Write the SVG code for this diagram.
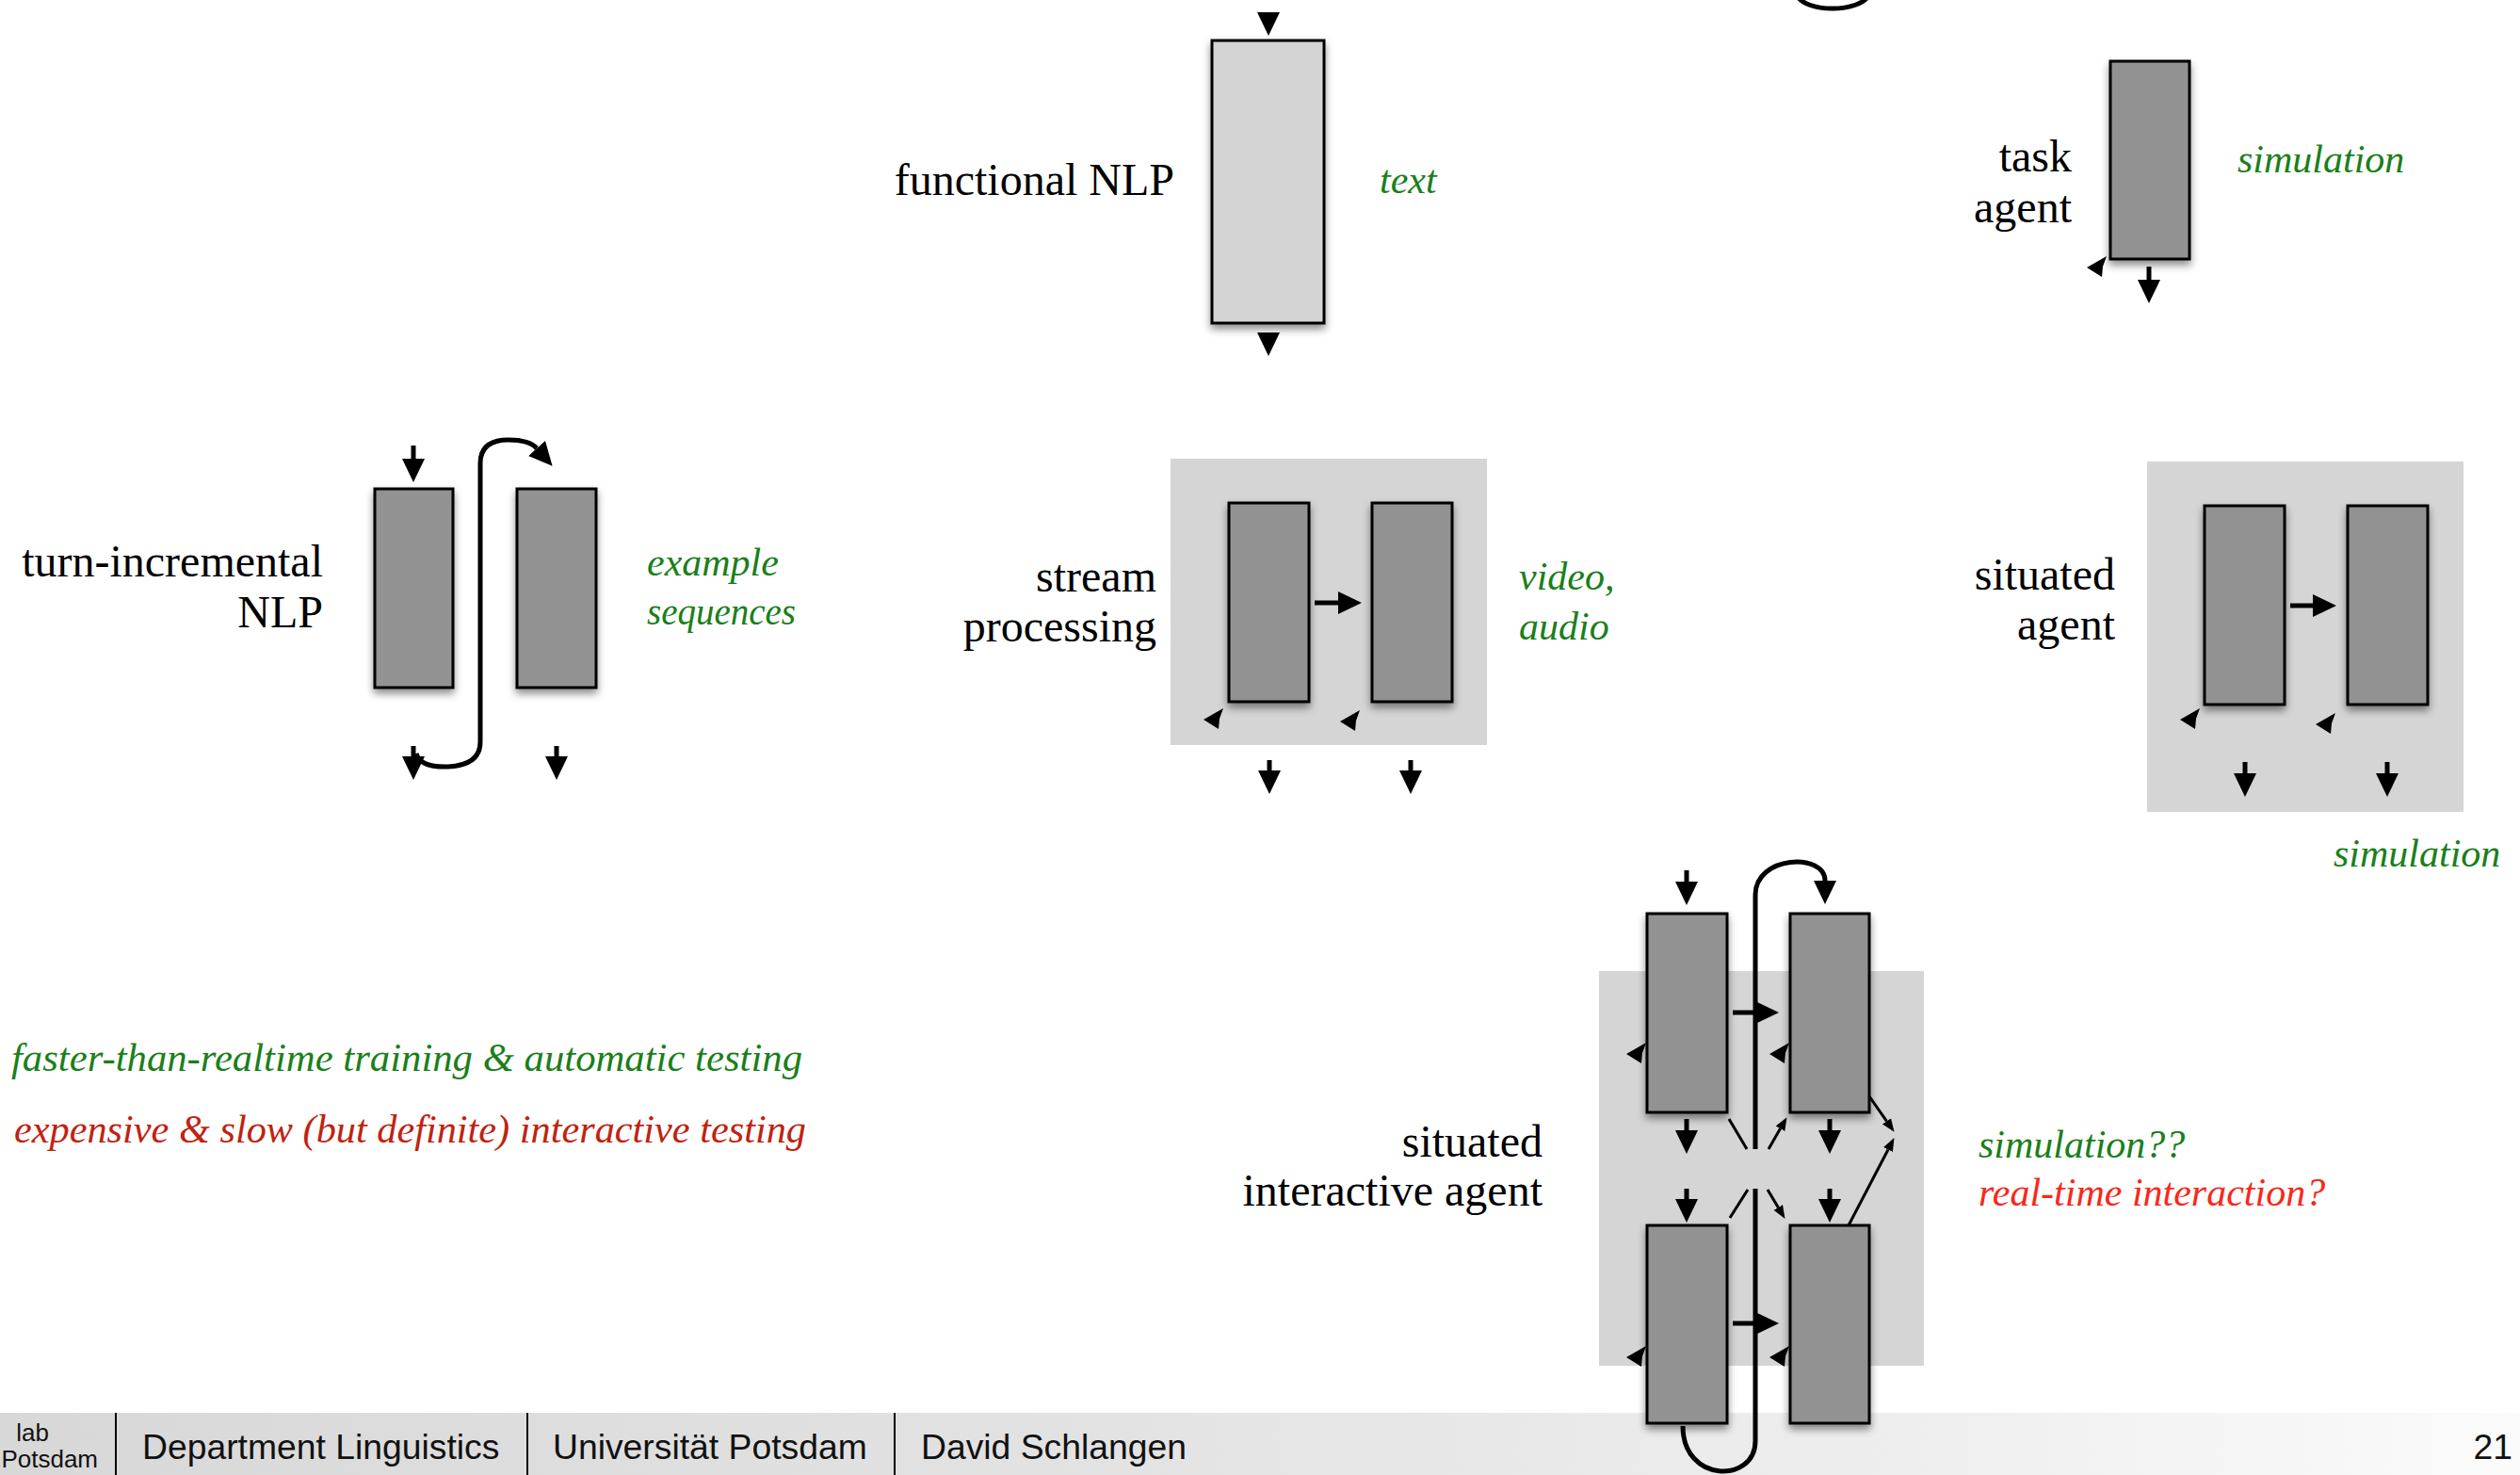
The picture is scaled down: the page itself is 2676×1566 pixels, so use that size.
<svg xmlns="http://www.w3.org/2000/svg" width="2676" height="1566" viewBox="0 0 2676 1566">
  <style>
    .box { fill: #929292; stroke: #000; stroke-width: 3; filter: url(#sh); }
    .lbox { fill: #d4d4d4; stroke: #000; stroke-width: 3; filter: url(#sh); }
    .panel { fill: #d5d5d5; }
    .ln { fill: none; stroke: #000; stroke-width: 5; marker-end: url(#ah); }
    .loop { fill: none; stroke: #000; stroke-width: 5; }
    .thin { fill: none; stroke: #000; stroke-width: 3; }
    .thinA { fill: none; stroke: #000; stroke-width: 3; marker-end: url(#sm); }
    .lbl { font-family: "Liberation Serif", "Times New Roman", serif; font-size: 48px; fill: #000; }
    .it { font-family: "Liberation Serif", "Times New Roman", serif; font-style: italic; font-size: 42px; fill: #1a7f1a; }
    .red { fill: #c0220f; }
    .bright { fill: #f8281a; }
    .foot { font-family: "Liberation Sans", Arial, sans-serif; font-size: 37.3px; fill: #111; }
    .foots { font-family: "Liberation Sans", Arial, sans-serif; font-size: 26px; fill: #111; }
  </style>
  <defs>
    <filter id="sh" x="-30%" y="-10%" width="160%" height="130%">
      <feDropShadow dx="0" dy="5" stdDeviation="4" flood-color="#000" flood-opacity="0.45"/>
    </filter>
    <marker id="ah" markerUnits="userSpaceOnUse" viewBox="0 -12 25 24" markerWidth="25" markerHeight="24" refX="0" refY="0" orient="auto">
      <path d="M0,-12 L25,0 L0,12 z" fill="#000"/>
    </marker>
    <marker id="sm" markerUnits="userSpaceOnUse" viewBox="0 -6 14 12" markerWidth="14" markerHeight="12" refX="0" refY="0" orient="auto">
      <path d="M0,-5.5 L14,0 L0,5.5 z" fill="#000"/>
    </marker>
    <polygon id="tick" points="0,0 21,-12 17,-1 16,10" fill="#000"/>
    <linearGradient id="footbg" x1="0" y1="0" x2="1" y2="0">
      <stop offset="0" stop-color="#d8d8d8"/>
      <stop offset="0.45" stop-color="#e3e3e3"/>
      <stop offset="0.75" stop-color="#eeeeee"/>
      <stop offset="1" stop-color="#fbfbfb"/>
    </linearGradient>
  </defs>

  <rect width="2676" height="1566" fill="#fff"/>

  <!-- footer bar -->
  <g id="footer">
    <rect x="0" y="1500" width="2676" height="66" fill="url(#footbg)"/>
    <line x1="123" y1="1500" x2="123" y2="1566" stroke="#000" stroke-width="2"/>
    <line x1="560" y1="1500" x2="560" y2="1566" stroke="#000" stroke-width="2"/>
    <line x1="950" y1="1500" x2="950" y2="1566" stroke="#000" stroke-width="2"/>
    <text class="foots" x="52" y="1530" text-anchor="end">lab</text>
    <text class="foots" x="104" y="1558" text-anchor="end">Potsdam</text>
    <text class="foot" x="151" y="1549">Department Linguistics</text>
    <text class="foot" x="587" y="1549">Universität Potsdam</text>
    <text class="foot" x="978" y="1549">David Schlangen</text>
    <text class="foot" x="2668" y="1549" text-anchor="end">21</text>
  </g>

  <!-- functional NLP -->
  <g id="functional-nlp">
    <rect class="lbox" x="1287" y="43" width="119" height="300"/>
    <text class="lbl" x="1247" y="207" text-anchor="end">functional NLP</text>
    <text class="it" x="1465" y="205">text</text>
  </g>

  <!-- task agent -->
  <g id="task-agent">
    <rect class="box" x="2241" y="65" width="84" height="210"/>
    <text class="lbl" x="2200" y="182" text-anchor="end">task</text>
    <text class="lbl" x="2200" y="236" text-anchor="end">agent</text>
    <text class="it" x="2376" y="183">simulation</text>
  </g>

  <!-- turn-incremental NLP -->
  <g id="turn-incremental">
    <rect class="box" x="398" y="519" width="83" height="211"/>
    <rect class="box" x="549" y="519" width="84" height="211"/>
    <text class="lbl" x="343" y="612" text-anchor="end">turn-incremental</text>
    <text class="lbl" x="343" y="666" text-anchor="end">NLP</text>
    <text class="it" x="687" y="611">example</text>
    <text class="it" x="687" y="663" textLength="158" lengthAdjust="spacingAndGlyphs">sequences</text>
  </g>

  <!-- stream processing -->
  <g id="stream-processing">
    <rect class="panel" x="1243" y="487" width="336" height="304"/>
    <rect class="box" x="1305" y="534" width="85" height="211"/>
    <rect class="box" x="1457" y="534" width="85" height="211"/>
    <text class="lbl" x="1228" y="628" text-anchor="end">stream</text>
    <text class="lbl" x="1228" y="681" text-anchor="end">processing</text>
    <text class="it" x="1613" y="626">video,</text>
    <text class="it" x="1613" y="679">audio</text>
  </g>

  <!-- situated agent -->
  <g id="situated-agent">
    <rect class="panel" x="2280" y="490" width="336" height="372"/>
    <rect class="box" x="2341" y="537" width="85" height="211"/>
    <rect class="box" x="2493" y="537" width="85" height="211"/>
    <text class="lbl" x="2246" y="626" text-anchor="end">situated</text>
    <text class="lbl" x="2246" y="679" text-anchor="end">agent</text>
    <text class="it" x="2478" y="920">simulation</text>
  </g>

  <!-- situated interactive agent -->
  <g id="situated-interactive-agent">
    <rect class="panel" x="1698" y="1031" width="345" height="419"/>
    <rect class="box" x="1749" y="970" width="85" height="211"/>
    <rect class="box" x="1901" y="970" width="84" height="211"/>
    <rect class="box" x="1749" y="1301" width="85" height="210"/>
    <rect class="box" x="1901" y="1301" width="84" height="210"/>
    <text class="lbl" x="1638" y="1228" text-anchor="end">situated</text>
    <text class="lbl" x="1638" y="1280" text-anchor="end">interactive agent</text>
    <text class="it" x="2101" y="1229">simulation??</text>
    <text class="it bright" x="2101" y="1280">real-time interaction?</text>
  </g>

  <!-- summary notes -->
  <g id="notes">
    <text class="it" x="12" y="1137" textLength="840" lengthAdjust="spacingAndGlyphs">faster-than-realtime training &amp; automatic testing</text>
    <text class="it red" x="15" y="1213" textLength="841" lengthAdjust="spacingAndGlyphs">expensive &amp; slow (but definite) interactive testing</text>
  </g>

  <!-- connectors -->
  <g id="connectors">
    <!-- loop fragment at top edge -->
    <path class="loop" d="M1908,-6 C1915,14 1976,14 1985,-6"/>

    <!-- functional NLP in/out -->
    <polygon points="1335,13 1359,13 1347,38" fill="#000"/>
    <polygon points="1335,353 1359,353 1347,378" fill="#000"/>

    <!-- task agent -->
    <line class="ln" x1="2282" y1="283" x2="2282" y2="297"/>
    <use href="#tick" x="2216" y="284"/>

    <!-- turn-incremental -->
    <line class="ln" x1="439" y1="473" x2="439" y2="487"/>
    <line class="ln" x1="439" y1="792" x2="439" y2="803"/>
    <line class="ln" x1="591" y1="792" x2="591" y2="803"/>
    <path class="ln" d="M442,800 Q446,815 476,814 Q510,812 510,788 L510,492 Q510,467 540,467 Q562,467 570,476"/>

    <!-- stream processing -->
    <line class="ln" x1="1396" y1="640" x2="1421" y2="640"/>
    <line class="ln" x1="1348" y1="807" x2="1348" y2="818"/>
    <line class="ln" x1="1498" y1="807" x2="1498" y2="818"/>
    <use href="#tick" x="1278" y="764"/>
    <use href="#tick" x="1423" y="766"/>

    <!-- situated agent -->
    <line class="ln" x1="2432" y1="643" x2="2456" y2="643"/>
    <line class="ln" x1="2384" y1="809" x2="2384" y2="821"/>
    <line class="ln" x1="2535" y1="809" x2="2535" y2="821"/>
    <use href="#tick" x="2315" y="764"/>
    <use href="#tick" x="2459" y="769"/>

    <!-- situated interactive agent -->
    <line class="ln" x1="1791" y1="924" x2="1791" y2="936"/>
    <line class="ln" x1="1840" y1="1075" x2="1864" y2="1075"/>
    <line class="ln" x1="1840" y1="1405" x2="1864" y2="1405"/>
    <line class="ln" x1="1791" y1="1188" x2="1791" y2="1200"/>
    <line class="ln" x1="1943" y1="1188" x2="1943" y2="1200"/>
    <line class="ln" x1="1791" y1="1262" x2="1791" y2="1273"/>
    <line class="ln" x1="1943" y1="1262" x2="1943" y2="1273"/>
    <path class="ln" d="M1864,1220 L1864,950 C1864,908 1938,905 1938,935"/>
    <path class="loop" d="M1864,1262 L1864,1530 C1864,1575 1787,1575 1787,1514"/>
    <line class="thin" x1="1836" y1="1188" x2="1855" y2="1220"/>
    <line class="thinA" x1="1878" y1="1220" x2="1890.5" y2="1198.3"/>
    <line class="thin" x1="1837" y1="1293" x2="1856" y2="1263"/>
    <line class="thinA" x1="1877" y1="1263" x2="1888.3" y2="1281.9"/>
    <line class="thinA" x1="1985" y1="1164" x2="2003.5" y2="1190.4"/>
    <line class="thinA" x1="1963" y1="1301" x2="2005" y2="1220.5"/>
    <use href="#tick" x="1727" y="1119"/>
    <use href="#tick" x="1879" y="1119"/>
    <use href="#tick" x="1727" y="1441"/>
    <use href="#tick" x="1879" y="1441"/>
  </g>
</svg>
